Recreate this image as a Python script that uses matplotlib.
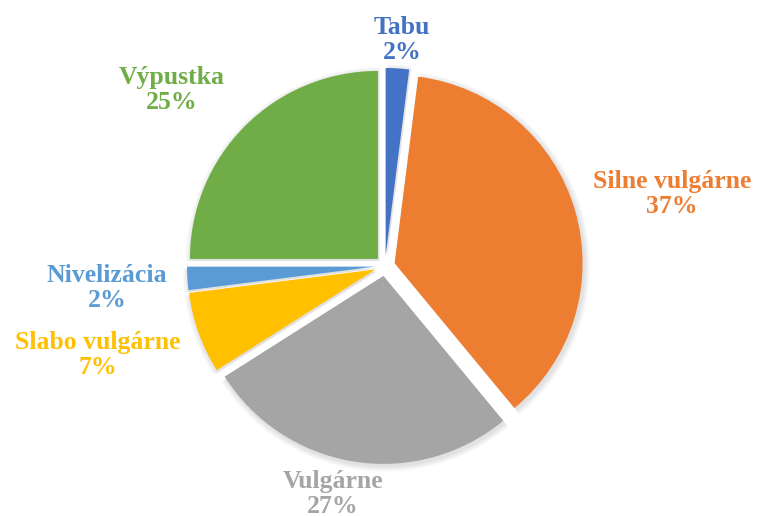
import matplotlib.pyplot as plt

# --------------------------------------------------
# Data
# --------------------------------------------------

labels = ["Tabu", "Silne vulgárne", "Vulgárne", "Slabo vulgárne", "Nivelizácia", "Výpustka"]
shares = [2, 37, 27, 7, 2, 25]
colors = ["#4472C4", "#ED7D31", "#A5A5A5", "#FFC000", "#5B9BD5", "#70AD47"]

# label anchor points (pixels, origin bottom-left)
label_pos = [(402, 476), (672, 322), (333, 22), (98, 161), (107, 228), (172, 426)]

# --------------------------------------------------
# Plot
# --------------------------------------------------

CENTER = (385, 250)
RADIUS = 188
EXPLODE = [10] * len(shares)

fig = plt.figure(figsize=(7.58, 5.16), dpi=100)
ax = fig.add_axes([0, 0, 1, 1])

# soft shadow under the slices
for k in range(5):
    ax.pie(
        shares,
        colors=["black"] * len(shares),
        startangle=90,
        counterclock=False,
        center=(CENTER[0] + 1.5, CENTER[1] - 2),
        radius=RADIUS + 1 + k * 1.2,
        explode=EXPLODE,
        wedgeprops={"linewidth": 0, "alpha": 0.025},
        frame=True,
    )

ax.pie(
    shares,
    colors=colors,
    startangle=90,
    counterclock=False,
    center=CENTER,
    radius=RADIUS,
    explode=EXPLODE,
    wedgeprops={"linewidth": 0},
    frame=True,
)

for lab, val, col, (x, y) in zip(labels, shares, colors, label_pos):
    ax.text(
        x, y, f"{lab}\n{val}%",
        ha="center", va="center",
        color=col, fontsize=18.5, fontweight="bold",
        family="Liberation Serif", linespacing=1.1,
    )

ax.set_xlim(0, 758)
ax.set_ylim(0, 516)
ax.set_aspect("equal")
ax.axis("off")

fig.savefig("out.png", dpi=100)
